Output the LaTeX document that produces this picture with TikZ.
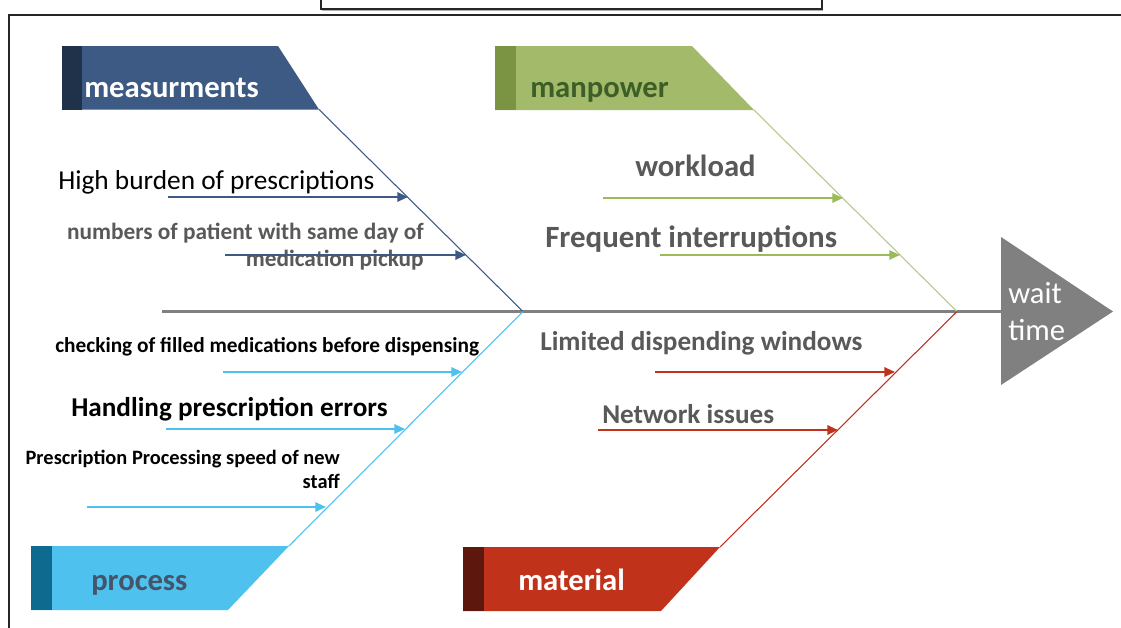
\documentclass[tikz,border=0pt]{standalone}
\usepackage{fontspec}
\setmainfont{Carlito}
\usetikzlibrary{arrows.meta}
\definecolor{mblue}{HTML}{3C5A84}
\definecolor{mbluedark}{HTML}{1F3249}
\definecolor{mgreen}{HTML}{A3BA6A}
\definecolor{mgreendark}{HTML}{7A9443}
\definecolor{mgreentext}{HTML}{3D5F27}
\definecolor{mgreenline}{HTML}{B3C88A}
\definecolor{mgreenarr}{HTML}{9BBB59}
\definecolor{mcyan}{HTML}{4FC1EE}
\definecolor{mcyandark}{HTML}{0E6A8E}
\definecolor{mcyantext}{HTML}{44546A}
\definecolor{mred}{HTML}{C1321A}
\definecolor{mreddark}{HTML}{5E170D}
\definecolor{txtgray}{HTML}{595959}
\definecolor{headgray}{HTML}{808080}
\tikzset{
  lbl/.style={inner sep=0pt, anchor=base west},
  boxlbl/.style={lbl, font=\fontsize{23}{27}\selectfont\bfseries},
  cause/.style={line width=1.5pt, -{Triangle[length=8pt,width=7pt]}},
  bone/.style={line width=0.8pt},
}
\begin{document}
\begin{tikzpicture}[x=0.75pt,y=-0.75pt]
\useasboundingbox (0,0) rectangle (1121,628);
\fill[white] (0,0) rectangle (1121,628);
% frames
\draw[black!85, line width=0.8pt] (9,640) -- (9,15) -- (1130,15);
\draw[black!30, line width=1.2pt] (322,10.6) -- (823,10.6);
\draw[black!85, line width=0.8pt] (321,-10) rectangle (822,9);

% junctions
\coordinate (jM) at (523,311.5);
\coordinate (jR) at (957,311.5);
\coordinate (spL) at (162,311.5);

% head
\coordinate (hW) at (1001,311.5);
\fill[headgray] (1001,237) -- (1113,311.5) -- (1001,385) -- cycle;
\node[lbl, white, font=\fontsize{23}{27.75}\selectfont, align=left] (wait) at (1008,340) {wait\\time};
\draw[headgray, line width=2pt] (spL) -- (hW);

% measurements box
\fill[mblue] (62,46) -- (278,46) -- (319,109.5) -- (62,109.5) -- cycle;
\fill[mbluedark] (62,46) rectangle (82,109.5);
\coordinate (mtip) at (319,109.5);
\node[boxlbl, white] (meas) at (84,97) {measurments};
\draw[bone, mblue] (mtip) -- (jM);

% manpower box
\fill[mgreen] (495,46) -- (692,46) -- (754,110) -- (495,110) -- cycle;
\fill[mgreendark] (495,46) rectangle (516,110);
\coordinate (ptip) at (754,110);
\node[boxlbl, mgreentext] (man) at (530,97) {manpower};
\draw[bone, mgreenline] (ptip) -- (jR);

% process box
\fill[mcyan] (31,546) -- (289,546) -- (228,610) -- (31,610) -- cycle;
\fill[mcyandark] (31,546) rectangle (52,610);
\coordinate (ctip) at (289,546);
\node[boxlbl, mcyantext] (proc) at (91,590) {process};
\draw[bone, mcyan] (ctip) -- (jM);

% material box
\fill[mred] (463,547) -- (720,547) -- (661,611) -- (463,611) -- cycle;
\fill[mreddark] (463,547) rectangle (484,611);
\coordinate (rtip) at (720,547);
\node[boxlbl, white] (mat) at (518,590) {material};
\draw[bone, mred] (rtip) -- (jR);

% measurement causes
\node[lbl, black, font=\fontsize{20.5}{24}\selectfont] (c1) at (58,189) {High burden of prescriptions};
\coordinate (a1s) at (168,197); \coordinate (a1e) at (408,197);
\draw[cause, mblue] (a1s) -- (a1e);
\node[inner sep=0pt, anchor=base east, txtgray, font=\fontsize{17.5}{20.25}\bfseries\selectfont, align=right] (c2) at (424,266) {numbers of patient with same day of\\medication pickup};
\coordinate (a2s) at (225,255); \coordinate (a2e) at (466,255);
\draw[cause, mblue] (a2s) -- (a2e);

% manpower causes
\node[lbl, txtgray, font=\fontsize{23}{27}\bfseries\selectfont] (c3) at (635,176) {workload};
\coordinate (a3s) at (603,198); \coordinate (a3e) at (843,198);
\draw[cause, mgreenarr] (a3s) -- (a3e);
\node[lbl, txtgray, font=\fontsize{23.2}{27}\bfseries\selectfont] (c4) at (545,247) {Frequent interruptions};
\coordinate (a4s) at (660,255); \coordinate (a4e) at (900,255);
\draw[cause, mgreenarr] (a4s) -- (a4e);

% process causes
\node[lbl, black, font=\fontsize{16}{20}\bfseries\selectfont] (c5) at (55,352) {checking of filled medications before dispensing};
\coordinate (a5s) at (223,372); \coordinate (a5e) at (462,372);
\draw[cause, mcyan] (a5s) -- (a5e);
\node[lbl, black, font=\fontsize{20.4}{24}\bfseries\selectfont] (c6) at (71,416) {Handling prescription errors};
\coordinate (a6s) at (166,429); \coordinate (a6e) at (405,429);
\draw[cause, mcyan] (a6s) -- (a6e);
\node[inner sep=0pt, anchor=base east, black, font=\fontsize{15.3}{18}\bfseries\selectfont, align=right] (c7) at (340,488) {Prescription Processing speed of new\\staff};
\coordinate (a7s) at (87,507); \coordinate (a7e) at (326,507);
\draw[cause, mcyan] (a7s) -- (a7e);

% material causes
\node[lbl, txtgray, font=\fontsize{20.4}{24}\bfseries\selectfont] (c8) at (540,350) {Limited dispending windows};
\coordinate (a8s) at (655,372); \coordinate (a8e) at (895,372);
\draw[cause, mred] (a8s) -- (a8e);
\node[lbl, txtgray, font=\fontsize{20.4}{24}\bfseries\selectfont] (c9) at (602,423) {Network issues};
\coordinate (a9s) at (598,430); \coordinate (a9e) at (838,430);
\draw[cause, mred] (a9s) -- (a9e);
\end{tikzpicture}
\end{document}
